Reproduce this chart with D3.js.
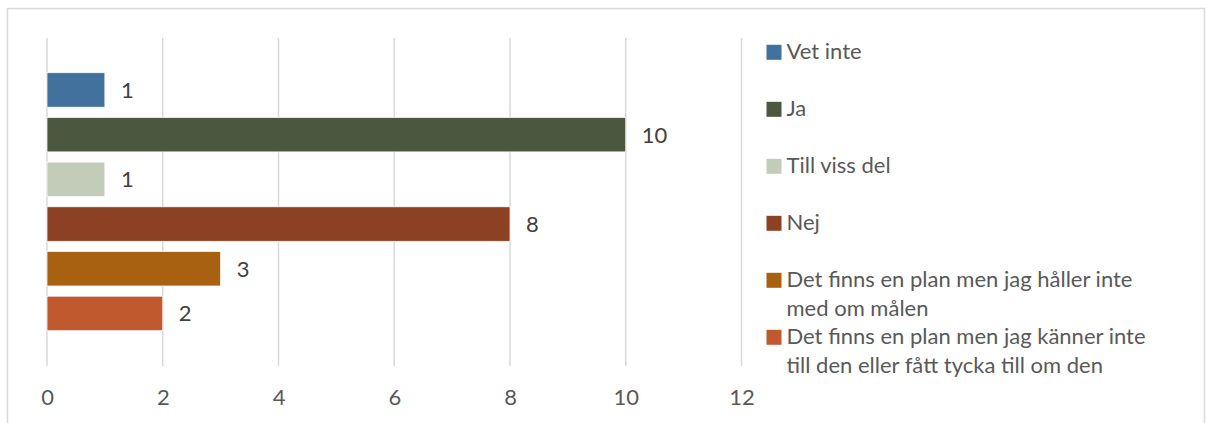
<!DOCTYPE html>
<html>
<head>
<meta charset="utf-8">
<script src="https://cdn.jsdelivr.net/npm/d3@7"></script>
<style>
  html, body { margin: 0; padding: 0; background: #fff; }
  svg { display: block; }
  text { font-family: Lato, "Open Sans", sans-serif; }
</style>
</head>
<body>
<svg id="chart" width="1206" height="423"></svg>
<script>
const categories = [
  "Vet inte",
  "Ja",
  "Till viss del",
  "Nej",
  "Det finns en plan men jag håller inte med om målen",
  "Det finns en plan men jag känner inte till den eller fått tycka till om den"
];
const values = [1, 10, 1, 8, 3, 2];
const colors = ["#41719C", "#4C5740", "#C3CCB9", "#8D4124", "#A86110", "#C05A2E"];
const xTicks = [0, 2, 4, 6, 8, 10, 12];

const svg = d3.select("#chart");
const FS = "22px";

// outer frame
svg.append("rect")
  .attr("x", 7.5).attr("y", 8.5)
  .attr("width", 1197).attr("height", 430)
  .attr("fill", "none").attr("stroke", "#D9D9D9").attr("stroke-width", 1.5);

const x = d3.scaleLinear().domain([0, 12]).range([47, 741.5]);
const y = d3.scaleBand().domain(categories).range([72.7, 330.7]).paddingInner(0.228).paddingOuter(0);

const gridTop = 38, gridBottom = 366;

// gridlines
svg.append("g").selectAll("line")
  .data(xTicks).join("line")
  .attr("x1", d => x(d)).attr("x2", d => x(d))
  .attr("y1", gridTop).attr("y2", gridBottom)
  .attr("stroke", "#D9D9D9").attr("stroke-width", 1.5);

// axis tick labels
const axis = d3.axisBottom(x).tickValues(xTicks).tickSize(0).tickPadding(0).tickFormat(d3.format("d"));
const ag = svg.append("g").attr("transform", `translate(0, ${gridBottom})`).call(axis);
ag.select(".domain").remove();
ag.selectAll("text")
  .attr("y", 39).attr("dy", null)
  .attr("fill", "#595959")
  .style("font-size", FS)
  .style("font-family", "Lato, 'Open Sans', sans-serif");

// bars
svg.append("g").selectAll("rect")
  .data(categories).join("rect")
  .attr("x", x(0))
  .attr("y", d => y(d))
  .attr("width", (d, i) => x(values[i]) - x(0))
  .attr("height", y.bandwidth())
  .attr("fill", (d, i) => colors[i])
  .attr("stroke", "#ffffff").attr("stroke-width", 0.75);

// data labels
svg.append("g").selectAll("text")
  .data(categories).join("text")
  .attr("x", (d, i) => x(values[i]) + 16)
  .attr("y", d => y(d) + y.bandwidth() / 2)
  .attr("dy", "0.36em")
  .attr("fill", "#404040")
  .style("font-size", FS)
  .text((d, i) => values[i]);

// legend
const legendX = 766.5, textX = 786.5;
const firstBaseline = 59.3, itemStep = 57, lineHeight = 29, maxW = 380;
const lg = svg.append("g");
let baseline = firstBaseline;
categories.forEach((c, i) => {
  const t = lg.append("text")
    .attr("x", textX).attr("y", baseline)
    .attr("fill", "#595959")
    .style("font-size", FS);
  const words = c.split(" ");
  let line = [];
  let nLines = 0;
  let tspan = t.append("tspan").attr("x", textX).attr("y", baseline);
  words.forEach(w => {
    line.push(w);
    tspan.text(line.join(" "));
    if (tspan.node().getComputedTextLength() > maxW && line.length > 1) {
      line.pop();
      tspan.text(line.join(" "));
      nLines++;
      line = [w];
      tspan = t.append("tspan").attr("x", textX)
        .attr("y", baseline + nLines * lineHeight).text(w);
    }
  });
  lg.append("rect")
    .attr("x", legendX).attr("y", baseline - 14.5)
    .attr("width", 15).attr("height", 15)
    .attr("fill", colors[i]);
  baseline += itemStep;
});
</script>
</body>
</html>
